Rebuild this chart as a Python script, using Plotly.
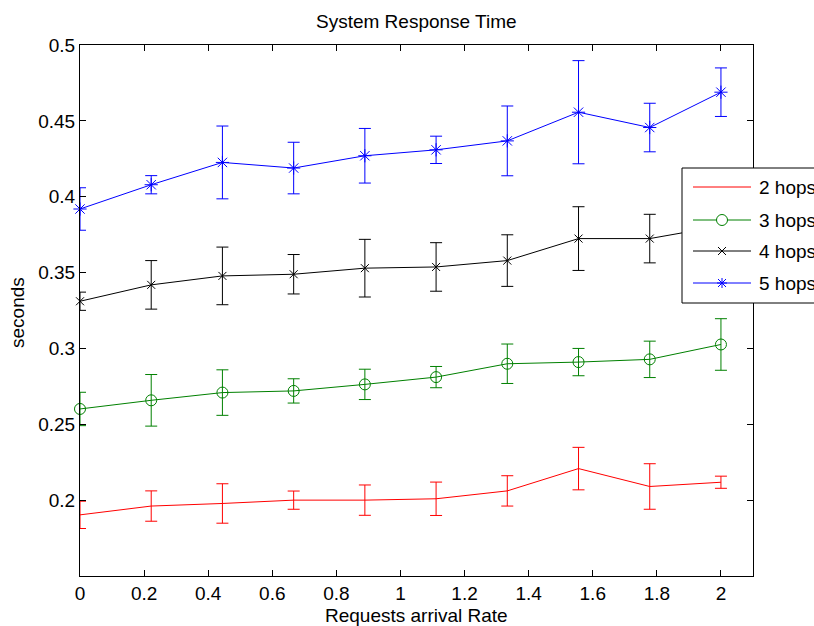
import numpy as np
import plotly.graph_objects as go

# ---------------- data ----------------
rate = [0.0, 0.2222, 0.4444, 0.6667, 0.8889, 1.1111, 1.3333, 1.5556, 1.7778, 2.0]

hops2 = [0.1903, 0.1961, 0.1978, 0.2000, 0.2000, 0.2009, 0.2061, 0.2208, 0.2090, 0.2118]
hops2_err = [0.009, 0.010, 0.013, 0.006, 0.010, 0.011, 0.010, 0.014, 0.015, 0.004]

hops3 = [0.2601, 0.2658, 0.2709, 0.2720, 0.2763, 0.2811, 0.2899, 0.2910, 0.2928, 0.3026]
hops3_err = [0.011, 0.017, 0.015, 0.008, 0.010, 0.007, 0.013, 0.009, 0.012, 0.017]

hops4 = [0.3311, 0.3419, 0.3478, 0.3489, 0.3529, 0.3537, 0.3579, 0.3724, 0.3724, 0.3807]
hops4_err = [0.006, 0.016, 0.019, 0.013, 0.019, 0.016, 0.017, 0.021, 0.016, 0.016]

hops5 = [0.3919, 0.4079, 0.4226, 0.4189, 0.4270, 0.4309, 0.4368, 0.4557, 0.4456, 0.4689]
hops5_err = [0.014, 0.006, 0.024, 0.017, 0.018, 0.009, 0.023, 0.034, 0.016, 0.016]

series_names = ["2 hops", "3 hops", "4 hops", "5 hops"]
x_ticks = [0, 0.2, 0.4, 0.6, 0.8, 1.0, 1.2, 1.4, 1.6, 1.8, 2.0]
x_tick_labels = ["0", "0.2", "0.4", "0.6", "0.8", "1", "1.2", "1.4", "1.6", "1.8", "2"]
y_ticks = [0.2, 0.25, 0.3, 0.35, 0.4, 0.45, 0.5]
y_tick_labels = ["0.2", "0.25", "0.3", "0.35", "0.4", "0.45", "0.5"]

# ---------------- style ----------------
W, H = 814, 626
L, R, T, B = 80, 753, 45, 576
FONT = "Liberation Sans, Arial, Helvetica, sans-serif"
FS = 19

colors = ["#ff0000", "#008000", "#000000", "#0000ff"]
symbols = [None, "circle-open", "x-thin-open", "asterisk-open"]
msizes = [0, 11, 8, 11]

fig = go.Figure()
for name, y, e, c, s, ms in zip(series_names,
                                [hops2, hops3, hops4, hops5],
                                [hops2_err, hops3_err, hops4_err, hops5_err],
                                colors, symbols, msizes):
    mode = "lines" if s is None else "lines+markers"
    marker = dict() if s is None else dict(symbol=s, size=ms, color=c,
                                           line=dict(color=c, width=1))
    fig.add_trace(go.Scatter(
        x=rate, y=y, name=name, mode=mode,
        line=dict(color=c, width=1),
        marker=marker,
        error_y=dict(type="data", array=e, visible=True, color=c,
                     thickness=1, width=6),
        showlegend=False, cliponaxis=False,
    ))


def px(xp):
    return (xp - L) / (R - L)


def py(yp):
    return (B - yp) / (B - T)


shapes = []
annotations = []

# legend box (manual, MATLAB style, extends past the right edge)
shapes.append(dict(type="rect", xref="paper", yref="paper",
                   x0=px(682), x1=px(830), y0=py(303), y1=py(168),
                   line=dict(color="black", width=1), fillcolor="white",
                   layer="above"))
rows = [187, 220, 251, 283]
for name, c, s, yr in zip(series_names, colors, symbols, rows):
    shapes.append(dict(type="line", xref="paper", yref="paper",
                       x0=px(693), x1=px(751), y0=py(yr), y1=py(yr),
                       line=dict(color=c, width=1), layer="above"))
    xa, ya = px(722), py(yr)
    if s == "circle-open":
        shapes.append(dict(type="circle", xref="paper", yref="paper",
                           xsizemode="pixel", ysizemode="pixel",
                           xanchor=xa, yanchor=ya, x0=-5.5, x1=5.5, y0=-5.5, y1=5.5,
                           line=dict(color=c, width=1), fillcolor="white",
                           layer="above"))
    elif s == "x-thin-open":
        shapes.append(dict(type="path", xref="paper", yref="paper",
                           xsizemode="pixel", ysizemode="pixel",
                           xanchor=xa, yanchor=ya,
                           path="M-4,-4 L4,4 M-4,4 L4,-4",
                           line=dict(color=c, width=1), layer="above"))
    elif s == "asterisk-open":
        shapes.append(dict(type="path", xref="paper", yref="paper",
                           xsizemode="pixel", ysizemode="pixel",
                           xanchor=xa, yanchor=ya,
                           path="M-5,0 L5,0 M0,-5 L0,5 M-4,-4 L4,4 M-4,4 L4,-4",
                           line=dict(color=c, width=1), layer="above"))
    annotations.append(dict(text=name, xref="paper", yref="paper",
                            x=px(757), y=py(yr), xanchor="left", yanchor="middle",
                            showarrow=False, font=dict(family=FONT, size=FS, color="black")))

# title and axis labels
annotations.append(dict(text="System Response Time", xref="paper", yref="paper",
                        x=0.5, y=py(22), xanchor="center", yanchor="middle",
                        showarrow=False, font=dict(family=FONT, size=FS, color="black")))
annotations.append(dict(text="Requests arrival Rate", xref="paper", yref="paper",
                        x=0.5, y=py(615), xanchor="center", yanchor="middle",
                        showarrow=False, font=dict(family=FONT, size=FS, color="black")))
annotations.append(dict(text="seconds", xref="paper", yref="paper",
                        x=px(18), y=py(312), xanchor="center", yanchor="middle",
                        textangle=-90,
                        showarrow=False, font=dict(family=FONT, size=FS, color="black")))

axis_common = dict(showgrid=False, zeroline=False, showline=True, linecolor="black",
                   linewidth=1, mirror="ticks", ticks="inside", ticklen=6,
                   tickwidth=1, tickcolor="black",
                   tickfont=dict(family=FONT, size=FS, color="black"))

fig.update_layout(
    width=W, height=H,
    margin=dict(l=L, r=W - R, t=T, b=H - B, pad=0, autoexpand=False),
    paper_bgcolor="white", plot_bgcolor="white",
    showlegend=False,
    xaxis=dict(range=[0, 2.1], tickvals=x_ticks, ticktext=x_tick_labels, **axis_common),
    yaxis=dict(range=[0.15, 0.5], tickvals=y_ticks, ticktext=y_tick_labels, **axis_common),
    shapes=shapes,
    annotations=annotations,
)

fig.write_html(
    "out.html",
    config={"displayModeBar": False, "staticPlot": True},
    post_script="document.body.style.margin='0';document.body.style.padding='0';"
                "document.body.style.overflow='hidden';",
)
